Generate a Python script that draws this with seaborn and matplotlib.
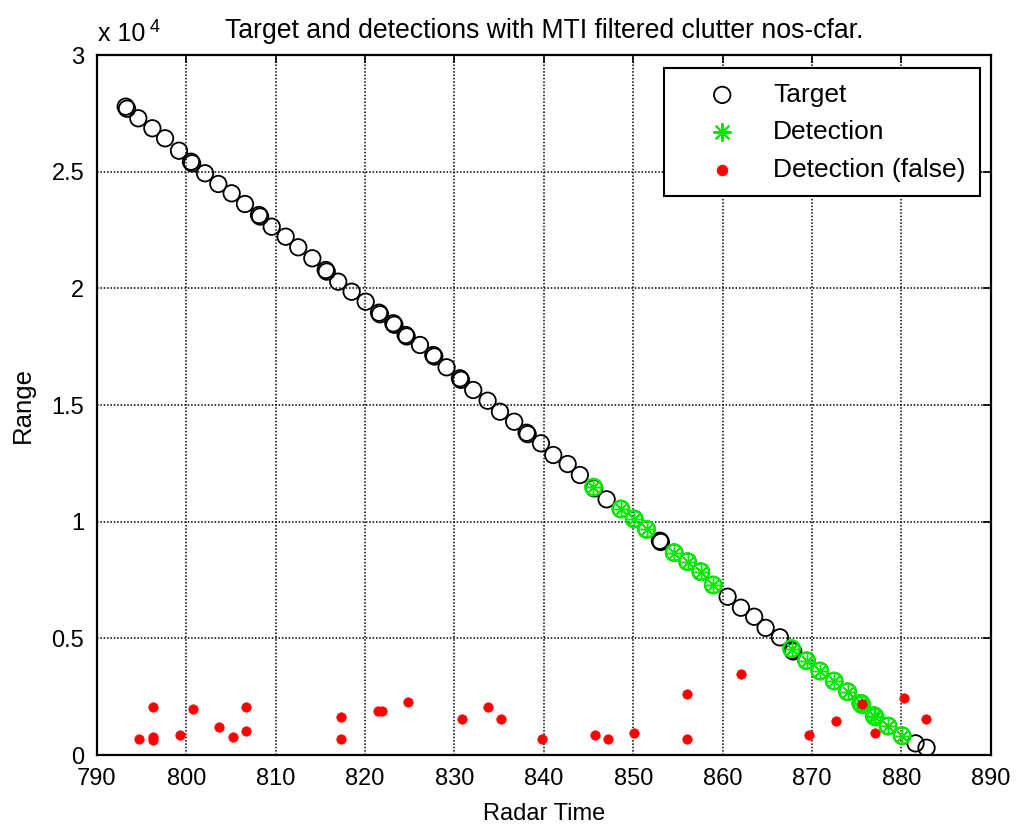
import matplotlib
matplotlib.use("Agg")
import matplotlib.pyplot as plt
import seaborn as sns

# Target track (radar time, range); repeated rows are overlapping returns
target_time = [793.23, 793.38, 794.64, 796.21, 797.63, 799.19, 800.53, 800.66, 802.10,
               803.59, 805.08, 806.57, 808.14, 808.26, 809.56, 811.12, 812.53, 814.10,
               815.60, 815.72, 817.00, 818.50, 820.07, 821.56, 821.68, 823.16, 823.28,
               824.54, 824.66, 826.14, 827.63, 827.75, 829.12, 830.61, 830.73, 832.10,
               833.71, 835.09, 836.68, 838.07, 838.19, 839.67, 841.05, 842.66, 844.03,
               845.63, 847.02, 848.61, 850.10, 851.49, 852.98, 853.08, 854.58, 856.08,
               857.56, 858.94, 860.55, 862.04, 863.52, 864.80, 866.40, 867.77, 867.89,
               869.38, 870.87, 872.47, 873.97, 875.45, 876.94, 878.50, 880.07, 881.57,
               882.80]
target_range = [27786, 27700, 27289, 26860, 26431, 25900, 25429, 25360, 24932,
                24473, 24074, 23616, 23144, 23080, 22643, 22215, 21760, 21289,
                20787, 20720, 20286, 19857, 19429, 18957, 18890, 18503, 18440,
                18001, 17940, 17573, 17144, 17080, 16617, 16145, 16080, 15644,
                15185, 14714, 14285, 13814, 13750, 13359, 12858, 12472, 12001,
                11430, 10959, 10544, 10115, 9673, 9185, 9130, 8671, 8285,
                7857, 7286, 6785, 6313, 5927, 5450, 5045, 4500, 4440,
                4042, 3600, 3172, 2713, 2216, 1684, 1243, 827, 501,
                313]

# Detections on the target
det_time = [845.55, 848.61, 850.10, 851.49, 854.58, 856.08, 857.56, 858.94,
            867.70, 869.38, 870.87, 872.47, 873.97, 875.45, 875.58, 876.94,
            877.07, 878.50, 880.07]
det_range = [11480, 10544, 10115, 9673, 8671, 8285, 7857, 7286,
             4560, 4042, 3600, 3172, 2713, 2216, 2160, 1684,
             1630, 1243, 827]

# False detections from clutter
false_time = [794.75, 796.32, 796.32, 796.32, 799.30, 800.72, 803.70, 805.26,
              806.68, 806.68, 817.27, 817.27, 821.45, 821.85, 824.83, 830.80,
              833.78, 835.16, 839.78, 845.71, 847.13, 850.10, 856.03, 856.03,
              862.03, 869.67, 872.66, 875.60, 877.02, 880.23, 882.75]
false_range = [673, 2070, 790, 640, 844, 1985, 1200, 759,
               2070, 1029, 1629, 673, 1899, 1899, 2259, 1543,
               2070, 1543, 673, 844, 673, 930, 2614, 673,
               3472, 857, 1470, 2173, 930, 2430, 1556]

x_ticks = [790, 800, 810, 820, 830, 840, 850, 860, 870, 880, 890]
y_ticks = [0, 5000, 10000, 15000, 20000, 25000, 30000]
y_tick_labels = ["0", "0.5", "1", "1.5", "2", "2.5", "3"]

sns.set_style("white")
plt.rcParams["font.family"] = ["Liberation Sans", "DejaVu Sans"]
plt.rcParams["font.size"] = 17
plt.rcParams["text.color"] = "black"
plt.rcParams["axes.labelcolor"] = "black"
plt.rcParams["xtick.color"] = "black"
plt.rcParams["ytick.color"] = "black"

fig = plt.figure(figsize=(10.16, 8.25), dpi=100)
ax = fig.add_axes([0.0953, 0.0848, 0.88, 0.8485])

green = "#00ea00"

sns.scatterplot(x=target_time, y=target_range, marker="o", s=140,
                color="black", facecolor="none", edgecolor="black",
                linewidth=1.3, label="Target", ax=ax, zorder=3)
sns.scatterplot(x=det_time, y=det_range, marker="o", s=140,
                color=green, facecolor="none", edgecolor=green,
                linewidth=1.8, legend=False, ax=ax, zorder=4)
sns.scatterplot(x=det_time, y=det_range, marker=(8, 2, 0), s=95,
                color=green, linewidth=1.1,
                label="Detection", ax=ax, zorder=5)
sns.scatterplot(x=false_time, y=false_range, marker="o", s=46,
                color="red", edgecolor="red", linewidth=0.5,
                label="Detection (false)", ax=ax, zorder=6)

ax.set_xlim(790, 890)
ax.set_ylim(0, 30000)
ax.set_xticks(x_ticks)
ax.set_xticklabels([str(t) for t in x_ticks])
ax.set_yticks(y_ticks)
ax.set_yticklabels(y_tick_labels)

ax.grid(True, color="black", linewidth=1.1, linestyle=(0, (1.0, 1.2)))
ax.set_axisbelow(True)
ax.tick_params(direction="in", length=6, width=1.2, top=True, right=True,
               labelsize=17, colors="black")
ax.tick_params(axis="x", pad=9)
ax.tick_params(axis="y", pad=9)
for sp in ax.spines.values():
    sp.set_visible(True)
    sp.set_color("black")
    sp.set_linewidth(1.6)

ax.set_xlabel("Radar Time", fontsize=17, labelpad=10, color="black")
ax.set_ylabel("Range", fontsize=18.5, labelpad=12, color="black")
ax.set_title("Target and detections with MTI filtered clutter nos-cfar.",
             fontsize=19.2, pad=12, color="black")

# Exponent label for the range axis
ax.text(0.001, 1.013, "x 10", transform=ax.transAxes, fontsize=18,
        ha="left", va="bottom", color="black")
ax.text(0.059, 1.027, "4", transform=ax.transAxes, fontsize=13,
        ha="left", va="bottom", color="black")

leg = ax.legend(loc="upper right", bbox_to_anchor=(0.988, 0.981),
                fontsize=19, frameon=True, fancybox=False, framealpha=1,
                edgecolor="black", borderpad=0.55, labelspacing=0.51,
                handlelength=3.3, handletextpad=0.28, borderaxespad=0,
                labelcolor="black")
leg.get_frame().set_linewidth(1.5)
leg.legend_handles[1].set_sizes([150])
leg.legend_handles[1].set_linewidth(1.5)
leg.legend_handles[2].set_sizes([60])

fig.savefig("out.png", dpi=100)
